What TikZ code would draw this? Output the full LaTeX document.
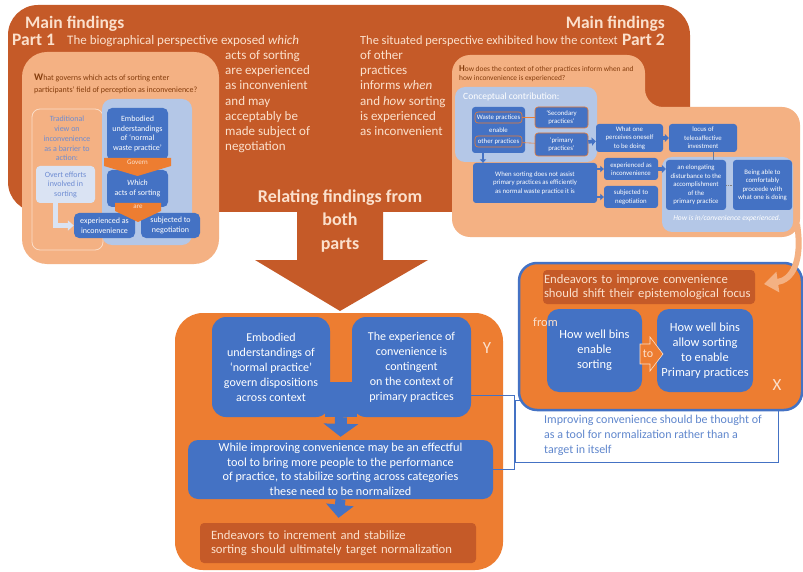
\documentclass[tikz,border=0pt]{standalone}
\usepackage{fontspec}
\setmainfont{Carlito}
\usetikzlibrary{arrows.meta}

\definecolor{darkor}{RGB}{197,90,40}
\definecolor{lightor}{RGB}{244,177,131}
\definecolor{midor}{RGB}{237,125,49}
\definecolor{boxblue}{RGB}{68,114,196}
\definecolor{paleblue}{RGB}{180,199,231}
\definecolor{iceblue}{RGB}{218,227,243}
\definecolor{peach}{RGB}{251,224,204}
\definecolor{brownq}{RGB}{132,60,12}
\definecolor{tradblue}{RGB}{110,140,210}

\tikzset{
  bluebox/.style={fill=boxblue, text=white, align=center, rounded corners=5pt, inner sep=1pt},
  onebox/.style={bluebox, font=\fontsize{8}{9.7}\selectfont},
  twobox/.style={bluebox, rounded corners=3pt, font=\fontsize{6.8}{8.5}\selectfont},
  ringbox/.style={draw=midor, line width=0.6pt},
  bigbox/.style={bluebox, rounded corners=14pt, font=\fontsize{12}{15}\selectfont},
  headtext/.style={text=peach, font=\fontsize{17.5}{20}\selectfont\bfseries, inner sep=0pt},
  bodytext/.style={text=peach, font=\fontsize{13}{15.3}\selectfont, align=left, inner sep=0pt},
  orlabel/.style={fill=darkor, text=peach, rounded corners=4pt, align=left},
  tinyarr/.style={boxblue, line width=2.5pt, -{Triangle[length=3.5pt,width=6.5pt]}},
  blockarr/.style={boxblue, line width=3.5pt, -{Triangle[length=4pt,width=8pt]}},
  elbowarr/.style={iceblue, line width=4.5pt, -{Triangle[length=6pt,width=10pt]}},
  bigarr/.style={boxblue, line width=12pt, -{Triangle[length=13pt,width=34pt]}, shorten >=3pt},
  midarr/.style={boxblue, line width=10pt, -{Triangle[length=13pt,width=27pt]}, shorten >=5pt}
}

\begin{document}
\begin{tikzpicture}[x=1pt,y=-1pt]
\useasboundingbox (0,0) rectangle (803,572);
\fill[white] (0,0) rectangle (803,572);

% Main findings band and the arrow down
\fill[darkor, rounded corners=30pt] (8,5) rectangle (690,212);
\fill[darkor] (297,205) -- (383,205) -- (383,260) -- (428,260) -- (340,311) -- (255,260) -- (297,260) -- cycle;

% insets
\fill[lightor, rounded corners=25pt] (22,52) rectangle (219,264);
\fill[lightor, rounded corners=18pt] (452,55) -- (645,55) -- (645,107) -- (800,107) -- (800,237) -- (452,237) -- cycle;

% Texts on the band
\node[headtext, anchor=base west] (mf1) at (25,29) {Main findings};
\node[headtext, anchor=base west] (part1) at (12,46) {Part 1};
\node[bodytext, anchor=base west] (bio) at (67,45) {The biographical perspective exposed \textit{which}};
\node[bodytext, anchor=north west] (bio2) at (225,50) {acts of sorting\\are experienced\\as inconvenient\\and may\\acceptably be\\made subject of\\negotiation};
\node[headtext, anchor=base east] (mf2) at (665,29) {Main findings};
\node[headtext, anchor=base east] (part2) at (665,46) {Part 2};
\node[bodytext, font=\fontsize{12.4}{15.3}\selectfont, anchor=base west] (sit) at (360,45) {The situated perspective exhibited how the context};
\node[bodytext, anchor=north west] (sit2) at (360,50) {of other\\practices\\informs \textit{when}\\and \textit{how} sorting\\is experienced\\as inconvenient};
\node[text=peach, font=\fontsize{18}{23.5}\selectfont\bfseries, align=center] (relate) at (340,221) {Relating findings from\\both\\parts};

% Part 1 inset
\node[anchor=north west, text=brownq, font=\fontsize{8}{11.5}\selectfont, align=left, inner sep=0pt] (q1) at (34,74) {{\fontsize{10}{10}\selectfont\bfseries W}hat governs which acts of sorting enter\\participants’ field of perception as inconvenience?};
\draw[lightor!45!white, line width=0.8pt, rounded corners=8pt] (32,109) rectangle (103,250);
\node[text=tradblue, font=\fontsize{8}{9.8}\selectfont, align=center] (trad) at (67,138.5) {Traditional\\view on\\inconvenience\\as a barrier to\\action:};
\fill[paleblue, rounded corners=10pt] (102,99) rectangle (192,245);
\node[fill=iceblue, text=tradblue, rounded corners=4pt, align=center, font=\fontsize{8}{9.5}\selectfont, minimum width=59pt, minimum height=37pt] (overt) at (65.5,184.5) {Overt efforts\\involved in\\sorting};
\node[onebox, minimum width=61pt, minimum height=52pt] (emb1) at (137.5,134) {Embodied\\understandings\\of ‘normal\\waste practice’};
\node[onebox, minimum width=61pt, minimum height=37pt] (which1) at (137.5,188.5) {\textit{Which}\\acts of sorting};
\fill[midor] (104,158) -- (171,158) -- (171,166) -- (137.5,176) -- (104,166) -- cycle;
\node[text=peach, font=\fontsize{7}{7}\selectfont] (govern) at (137.5,162.5) {Govern};
\node[onebox, minimum width=61pt, minimum height=25pt] (expinc1) at (104.5,225.5) {experienced as\\inconvenience};
\node[onebox, minimum width=59pt, minimum height=25pt] (subneg1) at (170.5,225.5) {subjected to\\negotiation};
\fill[midor] (115,203) -- (161,203) -- (161,211) -- (138,222) -- (115,211) -- cycle;
\node[text=peach, font=\fontsize{7}{7}\selectfont] (are) at (138,207) {are};
\draw[elbowarr] ([xshift=-10pt]overt.south) |- (expinc1.west);

% Part 2 inset
\node[anchor=north west, text=brownq, font=\fontsize{7.4}{9.5}\selectfont, align=left, inner sep=0pt] (q2) at (459,65) {{\fontsize{9}{9}\selectfont\bfseries H}ow does the context of other practices inform when and\\how inconvenience is experienced?};
\fill[paleblue, rounded corners=10pt] (455,87) rectangle (597,162);
\node[anchor=west, text=white, font=\fontsize{9.5}{10}\selectfont, inner sep=0pt] (concept) at (463,97) {Conceptual contribution:};
\node[twobox, minimum width=53pt, minimum height=46pt] (waste) at (498.5,130) {};
\node[twobox, ringbox, minimum width=47pt, minimum height=11pt] (wp) at (498.5,117.5) {Waste practices};
\node[text=white, font=\fontsize{6.8}{7}\selectfont] (enable) at (498.5,130) {enable};
\node[twobox, ringbox, minimum width=47pt, minimum height=11pt] (op) at (498.5,141.5) {other practices};
\node[twobox, ringbox, minimum width=53pt, minimum height=21pt] (sec) at (561.5,117.5) {‘Secondary\\practices’};
\node[twobox, ringbox, minimum width=53pt, minimum height=23pt] (prim) at (561.5,144.5) {‘primary\\practices’};
\draw[midor, line width=0.6pt] (wp) -- (sec);
\draw[midor, line width=0.6pt] (op) -- (prim);
\node[twobox, minimum width=67pt, minimum height=28pt] (whatone) at (629.5,138) {What one\\perceives oneself\\to be doing};
\node[twobox, minimum width=68pt, minimum height=28pt] (locus) at (703,138) {locus of\\teleoaffective\\investment};
\draw[blockarr] (prim) -- (whatone);
\draw[blockarr] (whatone) -- (locus);
\fill[paleblue, rounded corners=10pt] (662,157) rectangle (793,232);
\node[text=white, font=\fontsize{7.5}{8}\selectfont\itshape] (howexp) at (727,219) {How is in/convenience experienced.};
\node[twobox, minimum width=60pt, minimum height=50pt] (elong) at (696,185) {an elongating\\disturbance to the\\accomplishment\\of the\\primary practice};
\node[twobox, minimum width=59pt, minimum height=50pt] (being) at (762.5,185) {Being able to\\comfortably\\proceede with\\what one is doing};
\draw[gray!60!boxblue, line width=0.6pt] (locus.south -| 713,0) -- (elong.north -| 713,0);
\draw[densely dotted, gray, line width=0.7pt] (elong) -- (being);
\node[twobox, minimum width=124pt, minimum height=40pt] (when) at (535,183) {When sorting does not assist\\primary practices as efficiently\\as normal waste practice it is};
\draw[tinyarr] (waste.south -| 483,0) -- (when.north -| 483,0);
\node[twobox, minimum width=54pt, minimum height=22pt] (expinc2) at (631,169) {experienced as\\inconvenience};
\node[twobox, minimum width=54pt, minimum height=22pt] (subneg2) at (631,197) {subjected to\\negotiation};
\draw[tinyarr] (when.east |- expinc2) -- (expinc2.west);
\draw[tinyarr] (when.east |- subneg2) -- (subneg2.west);
\draw[blockarr] (expinc2.east) -- (elong.west |- expinc2.east);

% Y
\node[fill=midor, rounded corners=28pt, minimum width=328pt, minimum height=257pt] (ybox) at (339,441.5) {};
\node[fill=boxblue, minimum width=32pt, minimum height=35pt] (bridge) at (341,399.5) {};
\node[bigbox, minimum width=118pt, minimum height=100pt] (emb2) at (271,367) {Embodied\\understandings of\\‘normal practice’\\govern dispositions\\across context};
\node[bigbox, minimum width=119pt, minimum height=100pt] (exp2) at (411.5,367) {The experience of\\convenience is\\contingent\\on the context of\\primary practices};
\node[bigbox, rounded corners=10pt, font=\fontsize{12.2}{14.5}\selectfont, minimum width=305pt, minimum height=59pt] (while) at (340.5,469.5) {While improving convenience may be an effectful\\tool to bring more people to the performance\\of practice, to stabilize sorting across categories\\these need to be normalized};
\node[orlabel, font=\fontsize{12.7}{14}\selectfont, text width=254pt, inner xsep=11pt, minimum height=40pt] (endY) at (338,543) {Endeavors to increment and stabilize\\sorting should ultimately target normalization};
\draw[bigarr] (bridge.south) -- (while.north);
\draw[midarr] (while.south) -- (endY.north);
\node[text=peach, font=\fontsize{17}{17}\selectfont] (ylabel) at (487,348) {Y};

% note box and its connector
\node[draw=boxblue, line width=1pt, fill=white, minimum width=263pt, minimum height=62pt] (txtbox) at (646.5,431) {};
\node[anchor=north west, text=boxblue!85!white, font=\fontsize{12}{15}\selectfont, align=left, inner sep=0pt] (txt) at (544,415) {Improving convenience should be thought of\\as a tool for normalization rather than a\\target in itself};
\draw[boxblue, line width=1pt] (exp2.east |- 0,395) -| (txtbox.west |- while.east) -- (while.east);

% X
\node[fill=midor, draw=boxblue, line width=2.5pt, rounded corners=18pt, minimum width=283pt, minimum height=147pt] (xbox) at (660.5,336.5) {};
\node[orlabel, font=\fontsize{12.7}{14}\selectfont, text width=210pt, inner xsep=1pt, minimum height=34pt] (endX) at (649,287) {Endeavors to improve convenience\\should shift their epistemological focus};
\node[bluebox, rounded corners=12pt, font=\fontsize{12.4}{15}\selectfont, minimum width=95pt, minimum height=83pt] (bins1) at (594.5,350.5) {How well bins\\enable\\sorting};
\node[bluebox, rounded corners=12pt, font=\fontsize{12.4}{15}\selectfont, minimum width=96pt, minimum height=83pt] (bins2) at (705,350.5) {How well bins\\allow sorting\\to enable\\Primary practices};
\fill[midor, draw=peach, line width=0.6pt] (640,344) -- (650,344) -- (650,337) -- (663,354) -- (650,371) -- (650,364) -- (640,364) -- cycle;
\node[text=peach, font=\fontsize{12}{12}\selectfont] (toword) at (648,354) {to};
\node[anchor=west, text=peach, font=\fontsize{12.5}{12}\selectfont, inner sep=0pt] (fromword) at (533,322) {from};
\node[text=peach, font=\fontsize{17}{17}\selectfont] (xlabel) at (777,385) {X};

% curved arrow from Part 2 to X
\coordinate (p2edge) at (797,224);
\coordinate (xentry) at (764,284);
\draw[lightor, line width=6pt, -{Triangle[length=14pt,width=20pt]}] (p2edge) .. controls (803,262) and (792,280) .. (xentry);

\end{tikzpicture}
\end{document}
